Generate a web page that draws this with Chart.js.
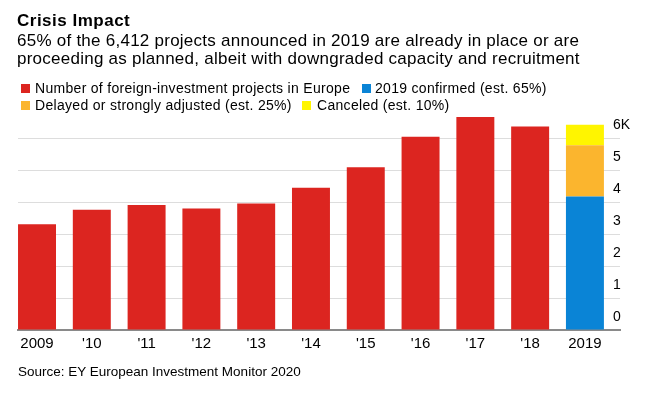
<!DOCTYPE html>
<html>
<head>
<meta charset="utf-8">
<script src="https://cdn.jsdelivr.net/npm/chart.js@4/dist/chart.umd.min.js"></script>
<style>
  html, body { margin: 0; padding: 0; background: #fff; }
  body { width: 647px; height: 396px; position: relative; overflow: hidden; font-family: "Liberation Sans", Arial, sans-serif; color: #000; }
  #wrap { position: absolute; left: 0; top: 0; width: 647px; height: 396px; }
  .t { position: absolute; white-space: nowrap; }
  #title { left: 17px; top: 12.3px; font-size: 17px; line-height: 17px; font-weight: bold; letter-spacing: 0.5px; }
  #sub { left: 17px; top: 32px; font-size: 17px; line-height: 17.6px; letter-spacing: 0.25px; }
  .lg { position: absolute; font-size: 14px; line-height: 14px; letter-spacing: 0.3px; white-space: nowrap; }
  .sq { position: absolute; width: 9px; height: 9px; }
  #src { left: 18px; top: 365.3px; font-size: 13.5px; line-height: 13.5px; }
</style>
</head>
<body>
<div id="wrap"><canvas id="c" width="647" height="396"></canvas></div>
<div class="t" id="title">Crisis Impact</div>
<div class="t" id="sub">65% of the 6,412 projects announced in 2019 are already in place or are<br>proceeding as planned, albeit with downgraded capacity and recruitment</div>
<div id="legend"></div>
<div class="t" id="src">Source: EY European Investment Monitor 2020</div>
<script>
// ---- data ----
const years = ['2009', "'10", "'11", "'12", "'13", "'14", "'15", "'16", "'17", "'18", '2019'];
const projects = [3303, 3757, 3909, 3797, 3957, 4448, 5083, 6040, 6653, 6356];
const confirmed2019 = [4168];
const delayed2019 = [1603];
const canceled2019 = [641];
const yTickValues = [0, 1000, 2000, 3000, 4000, 5000, 6000];
const yTickLabels = ['0', '1', '2', '3', '4', '5', '6K'];
const seriesNames = [
  'Number of foreign-investment projects in Europe',
  '2019 confirmed (est. 65%)',
  'Delayed or strongly adjusted (est. 25%)',
  'Canceled (est. 10%)'
];
const colors = ['#dc2520', '#0a84d6', '#fbb52e', '#fff500'];

// ---- legend (HTML) ----
const legendPos = [
  { sx: 21, sy: 84, tx: 35, ty: 81.2 },
  { sx: 362, sy: 84, tx: 375, ty: 81.2 },
  { sx: 21, sy: 101, tx: 35, ty: 98.2 },
  { sx: 302, sy: 101, tx: 317, ty: 98.2 }
];
const lg = document.getElementById('legend');
seriesNames.forEach((name, i) => {
  const p = legendPos[i];
  const sq = document.createElement('div');
  sq.className = 'sq';
  sq.style.left = p.sx + 'px'; sq.style.top = p.sy + 'px'; sq.style.background = colors[i];
  lg.appendChild(sq);
  const tx = document.createElement('div');
  tx.className = 'lg';
  tx.style.left = p.tx + 'px'; tx.style.top = p.ty + 'px';
  tx.textContent = name;
  lg.appendChild(tx);
});

// ---- chart ----
const lastIdx = years.length - 1;
const redData = projects.map((v, i) => ({ x: i, y: v }));
const blueData = confirmed2019.map(v => ({ x: lastIdx, y: v }));
const orangeData = delayed2019.map(v => ({ x: lastIdx, y: v }));
const yellowData = canceled2019.map(v => ({ x: lastIdx, y: v }));

const common = { categoryPercentage: 1, barPercentage: 0.693, borderWidth: 0 };

new Chart(document.getElementById('c'), {
  type: 'bar',
  data: {
    datasets: [
      Object.assign({ label: seriesNames[0], data: redData, backgroundColor: colors[0] }, common),
      Object.assign({ label: seriesNames[1], data: blueData, backgroundColor: colors[1] }, common),
      Object.assign({ label: seriesNames[2], data: orangeData, backgroundColor: colors[2] }, common),
      Object.assign({ label: seriesNames[3], data: yellowData, backgroundColor: colors[3] }, common)
    ]
  },
  options: {
    responsive: false,
    animation: false,
    devicePixelRatio: 1,
    layout: { padding: { left: 18, top: 112.4, right: 0, bottom: 0 } },
    plugins: { legend: { display: false }, tooltip: { enabled: false }, title: { display: false } },
    scales: {
      x: {
        type: 'linear',
        offset: false,
        stacked: true,
        min: -0.347,
        max: 10.64,
        afterBuildTicks: (s) => { s.ticks = years.map((_, i) => ({ value: i })); },
        afterFit: (s) => { s.height = 66; },
        grid: { display: false, drawTicks: false },
        border: { display: true, color: '#8a8a8a', width: 2 },
        ticks: {
          autoSkip: false, maxRotation: 0, padding: 5, color: '#000',
          font: { family: 'Liberation Sans', size: 15 },
          callback: (v) => years[v]
        }
      },
      y: {
        position: 'right',
        stacked: true,
        min: 0,
        max: 6800,
        afterBuildTicks: (s) => { s.ticks = yTickValues.map(v => ({ value: v })); },
        afterFit: (s) => { s.width = 27; },
        grid: { color: '#dddddd', lineWidth: 1, drawTicks: false },
        border: { display: false },
        ticks: {
          mirror: true, crossAlign: 'far',
          padding: 10, labelOffset: -13, color: '#000',
          font: { family: 'Liberation Sans', size: 14 },
          callback: (v, i) => yTickLabels[i]
        }
      }
    }
  }
});
</script>
</body>
</html>
